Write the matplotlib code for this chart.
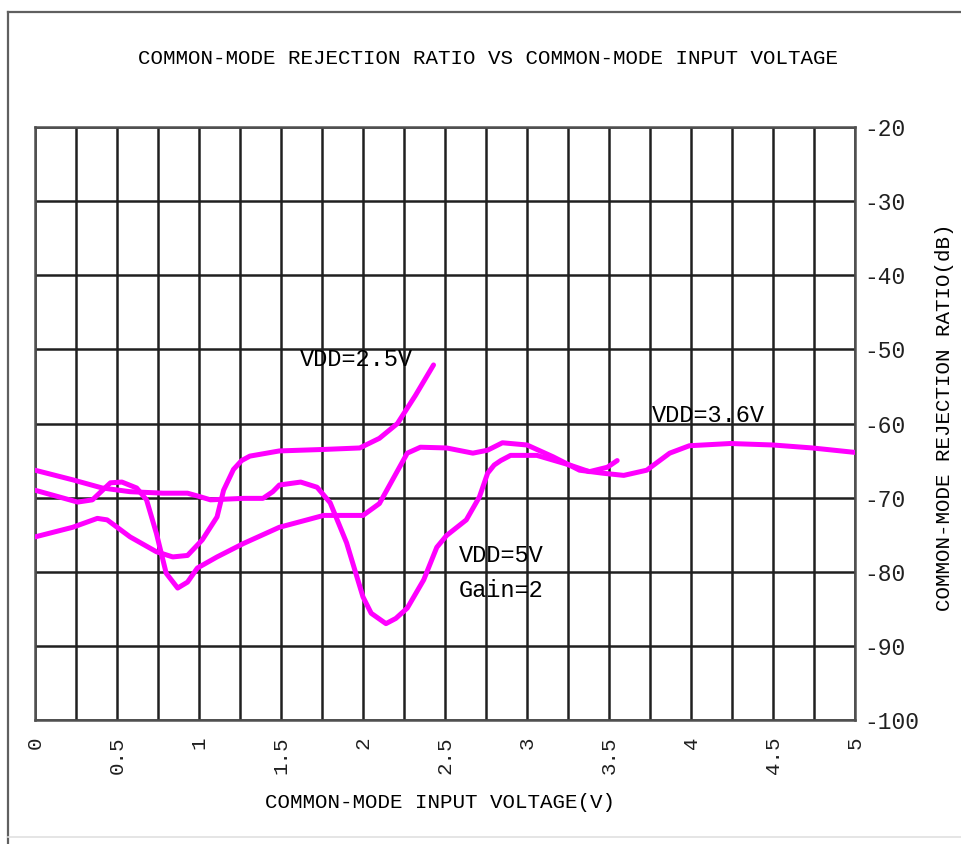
import matplotlib
matplotlib.use("Agg")
import matplotlib.pyplot as plt
from matplotlib.lines import Line2D
import numpy as np

plt.rcParams['font.family'] = ['Liberation Mono', 'DejaVu Sans Mono']

#-------------------------------------------------------------------------------
# Courbes (tension d'entrée en V, CMRR en dB)
#-------------------------------------------------------------------------------
v_25 = [0.00, 0.23, 0.38, 0.44, 0.58, 0.74, 0.84, 0.93, 1.02, 1.11, 1.15, 1.21,
        1.26, 1.31, 1.49, 1.76, 1.98, 2.10, 2.21, 2.32, 2.43]
cmrr_25 = [-75.3, -74.0, -72.8, -73.0, -75.3, -77.3, -78.0, -77.8, -75.7, -72.6,
           -69.0, -66.2, -65.0, -64.4, -63.7, -63.5, -63.3, -62.0, -60.0, -56.2,
           -52.1]

v_36 = [0.00, 0.23, 0.41, 0.58, 0.78, 0.93, 1.01, 1.07, 1.27, 1.39, 1.45, 1.49,
        1.62, 1.72, 1.80, 1.90, 2.00, 2.05, 2.14, 2.20, 2.27, 2.37, 2.45, 2.51,
        2.63, 2.71, 2.76, 2.80, 2.84, 2.90, 3.06, 3.26, 3.38, 3.49, 3.55]
cmrr_36 = [-66.3, -67.6, -68.7, -69.2, -69.4, -69.4, -69.9, -70.3, -70.1, -70.1,
           -69.2, -68.3, -67.9, -68.6, -70.7, -76.1, -83.4, -85.6, -87.0, -86.3,
           -84.9, -81.1, -76.7, -75.1, -73.0, -69.9, -66.7, -65.6, -65.0, -64.3,
           -64.3, -65.6, -66.5, -65.9, -65.0]

v_5 = [0.00, 0.26, 0.35, 0.46, 0.53, 0.62, 0.68, 0.74, 0.80, 0.87, 0.93, 0.99,
       1.11, 1.27, 1.49, 1.76, 2.00, 2.10, 2.18, 2.27, 2.35, 2.51, 2.67, 2.76,
       2.85, 3.00, 3.16, 3.32, 3.46, 3.59, 3.73, 3.87, 3.99, 4.24, 4.50, 4.74, 5.00]
cmrr_5 = [-69.0, -70.6, -70.3, -68.0, -67.9, -68.7, -70.3, -74.8, -80.2, -82.2,
          -81.4, -79.5, -78.0, -76.2, -74.0, -72.4, -72.4, -70.8, -67.6, -64.0,
          -63.2, -63.3, -64.0, -63.6, -62.6, -62.9, -64.5, -66.3, -66.7, -67.0,
          -66.3, -64.0, -63.0, -62.7, -62.9, -63.3, -63.9]

x_ticks = [0, 0.5, 1, 1.5, 2, 2.5, 3, 3.5, 4, 4.5, 5]
x_labels = ['0', '0.5', '1', '1.5', '2', '2.5', '3', '3.5', '4', '4.5', '5']
y_ticks = [-100, -90, -80, -70, -60, -50, -40, -30, -20]

#-------------------------------------------------------------------------------
# Figure
#-------------------------------------------------------------------------------
fig = plt.figure(figsize=(9.61, 8.44), dpi=100)
ax = fig.add_axes([35/961, 1 - 720/844, 820/961, 593/844])

for v, c in [(v_25, cmrr_25), (v_36, cmrr_36), (v_5, cmrr_5)]:
    ax.plot(v, c, color='#ff00ff', lw=3.6, solid_joinstyle='round',
            solid_capstyle='round', zorder=3)

ax.set_xlim(0, 5)
ax.set_ylim(-100, -20)
ax.set_xticks(x_ticks)
ax.set_xticklabels(x_labels, rotation=90, fontsize=15)
ax.set_xticks(np.arange(0, 5.01, 0.25), minor=True)
ax.set_yticks(y_ticks)
ax.set_yticklabels([str(t) for t in y_ticks], fontsize=16.5)
ax.yaxis.tick_right()
ax.tick_params(axis='both', which='both', length=0, colors='#202020')
ax.tick_params(axis='x', pad=12)
ax.tick_params(axis='y', pad=7)

ax.grid(True, which='both', color='#202020', lw=1.8)
for s in ax.spines.values():
    s.set_color('#505050')
    s.set_linewidth(1.8)

ax.text(1.616, -51.4, 'VDD=2.5V', fontsize=17, va='center', ha='left')
ax.text(3.76, -58.9, 'VDD=3.6V', fontsize=17, va='center', ha='left')
ax.text(2.585, -77.8, 'VDD=5V', fontsize=17, va='center', ha='left')
ax.text(2.585, -82.5, 'Gain=2', fontsize=17, va='center', ha='left')

fig.text(488/961, 1 - 58/844,
         'COMMON-MODE REJECTION RATIO VS COMMON-MODE INPUT VOLTAGE',
         fontsize=15, ha='center', va='center')
fig.text(440/961, 1 - 803/844, 'COMMON-MODE INPUT VOLTAGE(V)',
         fontsize=15, ha='center', va='center')
fig.text(944/961, 1 - 417/844, 'COMMON-MODE REJECTION RATIO(dB)',
         fontsize=15, ha='center', va='center', rotation=90)

# cadre gris autour du graphe
fig.add_artist(Line2D([8/961, 8/961], [0, 1 - 12/844], transform=fig.transFigure,
                      color='#606060', lw=1.6))
fig.add_artist(Line2D([8/961, 1], [1 - 12/844, 1 - 12/844], transform=fig.transFigure,
                      color='#606060', lw=1.6))
fig.add_artist(Line2D([8/961, 1], [1 - 837/844, 1 - 837/844], transform=fig.transFigure,
                      color='#e0e0e0', lw=1.2))

fig.savefig('out.png', dpi=100)
